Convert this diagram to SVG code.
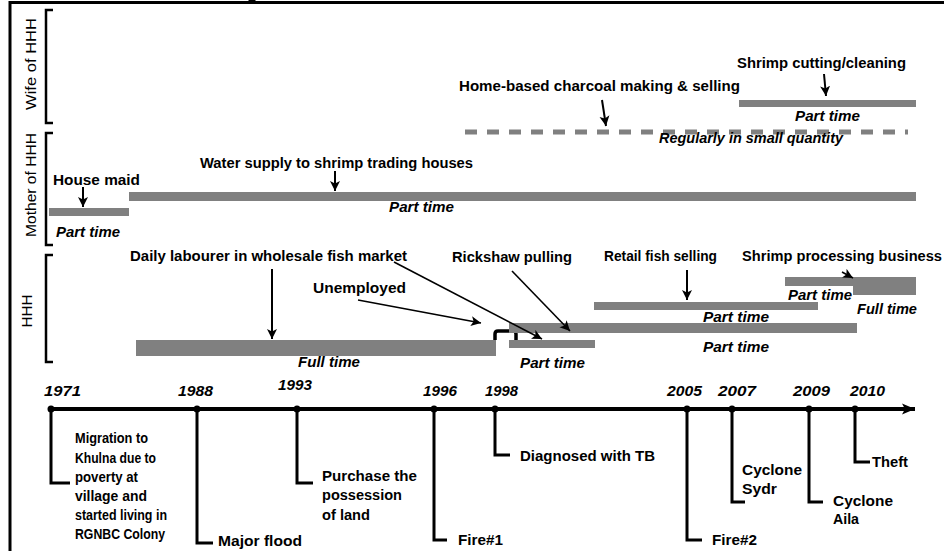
<svg xmlns="http://www.w3.org/2000/svg" width="944" height="551" viewBox="0 0 944 551">
<defs>
<style>
text{font-family:"Liberation Sans",Arial,sans-serif;fill:#000}
.b{font-weight:bold;font-size:14.5px}
.it{font-weight:bold;font-style:italic;font-size:14.5px}
.yr{font-weight:bold;font-style:italic;font-size:14px}
.row{font-size:15px}
.bar{fill:#808080}
.brk{fill:none;stroke:#000;stroke-width:2.5}
.arr{fill:none;stroke:#000;stroke-width:1.6;marker-end:url(#ah)}
.arrv{fill:none;stroke:#000;stroke-width:2;marker-end:url(#ah)}
.call{fill:none;stroke:#000;stroke-width:3}
.dot{fill:#000}
</style>
<marker id="ah" markerUnits="userSpaceOnUse" markerWidth="11" markerHeight="11" refX="10" refY="5.5" orient="auto">
<path d="M0,0.5 L10,5.5 L0,10.5 L2.5,5.5 z" fill="#000"/>
</marker>
<marker id="axh" markerUnits="userSpaceOnUse" markerWidth="14" markerHeight="12" refX="13" refY="6" orient="auto">
<path d="M0,0.5 L13,6 L0,11.5 L3,6 z" fill="#000"/>
</marker>
</defs>
<rect width="944" height="551" fill="#fff"/>
<g id="frame">
<path d="M10,551 V2.5 H944" fill="none" stroke="#000" stroke-width="3"/>
<path d="M248,0 L256,0 L252,4 z" fill="#000"/>
</g>
<g id="row-labels">
<text class="row" transform="translate(36,64) rotate(-90)" text-anchor="middle" textLength="92" lengthAdjust="spacingAndGlyphs">Wife of HHH</text>
<path class="brk" d="M53,10 H46 V123 H53"/>
<text class="row" transform="translate(36,185) rotate(-90)" text-anchor="middle" textLength="104" lengthAdjust="spacingAndGlyphs">Mother of HHH</text>
<path class="brk" d="M53,133 H46 V245 H53"/>
<text class="row" transform="translate(32,311) rotate(-90)" text-anchor="middle" textLength="33" lengthAdjust="spacingAndGlyphs">HHH</text>
<path class="brk" d="M53,255 H46 V362 H53"/>
</g>
<g id="wife-charcoal">
<text class="b" x="459" y="91" textLength="281" lengthAdjust="spacingAndGlyphs">Home-based charcoal making &amp; selling</text>
<line x1="465" y1="132" x2="908" y2="132" stroke="#808080" stroke-width="5" stroke-dasharray="12 10"/>
<text class="it" x="659" y="143" textLength="184" lengthAdjust="spacingAndGlyphs">Regularly in small quantity</text>
</g>
<g id="wife-shrimp">
<text class="b" x="737" y="68" textLength="169" lengthAdjust="spacingAndGlyphs">Shrimp cutting/cleaning</text>
<rect class="bar" x="739" y="100" width="177" height="7"/>
<text class="it" x="795" y="121" textLength="65" lengthAdjust="spacingAndGlyphs">Part time</text>
</g>
<g id="mother-maid">
<text class="b" x="53" y="185" textLength="87" lengthAdjust="spacingAndGlyphs">House maid</text>
<rect class="bar" x="49" y="208" width="80" height="8"/>
<text class="it" x="56" y="237" textLength="64" lengthAdjust="spacingAndGlyphs">Part time</text>
</g>
<g id="mother-water">
<text class="b" x="200" y="168" textLength="273" lengthAdjust="spacingAndGlyphs">Water supply to shrimp trading houses</text>
<rect class="bar" x="129" y="192" width="787" height="9"/>
<text class="it" x="389" y="212" textLength="65" lengthAdjust="spacingAndGlyphs">Part time</text>
</g>
<g id="hhh-labourer">
<text class="b" x="130" y="261" textLength="277" lengthAdjust="spacingAndGlyphs">Daily labourer in wholesale fish market</text>
<rect class="bar" x="136" y="340" width="360" height="16"/>
<text class="it" x="298" y="367" textLength="62" lengthAdjust="spacingAndGlyphs">Full time</text>
</g>
<g id="hhh-unemployed">
<text class="b" x="313" y="293" textLength="93" lengthAdjust="spacingAndGlyphs">Unemployed</text>
<path d="M495,340 V334 Q495,331 498,331 H513 Q516,331 516,334 V340" fill="none" stroke="#000" stroke-width="3.5"/>
</g>
<g id="hhh-rickshaw">
<text class="b" x="452" y="262" textLength="120" lengthAdjust="spacingAndGlyphs">Rickshaw pulling</text>
<rect class="bar" x="509" y="340" width="86" height="8"/>
<text class="it" x="520" y="368" textLength="65" lengthAdjust="spacingAndGlyphs">Part time</text>
<rect class="bar" x="509" y="323" width="348" height="10"/>
<text class="it" x="703" y="352" textLength="66" lengthAdjust="spacingAndGlyphs">Part time</text>
</g>
<g id="hhh-retail">
<text class="b" x="604" y="261" textLength="113" lengthAdjust="spacingAndGlyphs">Retail fish selling</text>
<rect class="bar" x="594" y="302" width="224" height="8"/>
<text class="it" x="703" y="322" textLength="66" lengthAdjust="spacingAndGlyphs">Part time</text>
</g>
<g id="hhh-shrimp">
<text class="b" x="742" y="261" textLength="200" lengthAdjust="spacingAndGlyphs">Shrimp processing business</text>
<rect class="bar" x="785" y="277" width="131" height="9"/>
<rect class="bar" x="853" y="277" width="63" height="18"/>
<text class="it" x="788" y="300" textLength="64" lengthAdjust="spacingAndGlyphs">Part time</text>
<text class="it" x="857" y="314" textLength="60" lengthAdjust="spacingAndGlyphs">Full time</text>
</g>
<g id="connectors">
<line class="arrv" x1="83" y1="187" x2="83" y2="207"/>
<line class="arrv" x1="335" y1="171" x2="335" y2="191"/>
<line class="arrv" x1="602" y1="100" x2="606" y2="126"/>
<line class="arrv" x1="824" y1="74" x2="826" y2="96"/>
<line class="arrv" x1="272" y1="269" x2="272" y2="339"/>
<line class="arr" x1="358" y1="300" x2="481" y2="323"/>
<line class="arr" x1="394" y1="262" x2="542" y2="339"/>
<line class="arr" x1="512" y1="271" x2="570" y2="331"/>
<line class="arrv" x1="687" y1="270" x2="687" y2="300"/>
<line class="arr" x1="842" y1="272" x2="853" y2="278"/>
</g>
<g id="timeline">
<line x1="48" y1="409" x2="915" y2="409" stroke="#000" stroke-width="4" marker-end="url(#axh)"/>
<text class="yr" x="44" y="396" textLength="37" lengthAdjust="spacingAndGlyphs">1971</text>
<text class="yr" x="178" y="396" textLength="35" lengthAdjust="spacingAndGlyphs">1988</text>
<text class="yr" x="278" y="390" textLength="34" lengthAdjust="spacingAndGlyphs">1993</text>
<text class="yr" x="423" y="396" textLength="34" lengthAdjust="spacingAndGlyphs">1996</text>
<text class="yr" x="485" y="396" textLength="33" lengthAdjust="spacingAndGlyphs">1998</text>
<text class="yr" x="667" y="396" textLength="35" lengthAdjust="spacingAndGlyphs">2005</text>
<text class="yr" x="718" y="396" textLength="38" lengthAdjust="spacingAndGlyphs">2007</text>
<text class="yr" x="793" y="396" textLength="37" lengthAdjust="spacingAndGlyphs">2009</text>
<text class="yr" x="850" y="396" textLength="35" lengthAdjust="spacingAndGlyphs">2010</text>
</g>
<g id="ev-1971">
<circle class="dot" cx="51" cy="409" r="3.5"/>
<path class="call" d="M51,409 V483 H70"/>
<text class="b" x="75" y="443" textLength="73" lengthAdjust="spacingAndGlyphs">Migration to</text>
<text class="b" x="75" y="463" textLength="81" lengthAdjust="spacingAndGlyphs">Khulna due to</text>
<text class="b" x="75" y="482" textLength="63" lengthAdjust="spacingAndGlyphs">poverty at</text>
<text class="b" x="75" y="501" textLength="72" lengthAdjust="spacingAndGlyphs">village and</text>
<text class="b" x="75" y="520" textLength="92" lengthAdjust="spacingAndGlyphs">started living in</text>
<text class="b" x="75" y="539" textLength="90" lengthAdjust="spacingAndGlyphs">RGNBC Colony</text>
</g>
<g id="ev-1988">
<circle class="dot" cx="197" cy="409" r="3.5"/>
<path class="call" d="M197,409 V543 H213"/>
<text class="b" x="218" y="546" textLength="84" lengthAdjust="spacingAndGlyphs">Major flood</text>
</g>
<g id="ev-1993">
<circle class="dot" cx="297" cy="409" r="3.5"/>
<path class="call" d="M297,409 V483 H313"/>
<text class="b" x="322" y="481" textLength="95" lengthAdjust="spacingAndGlyphs">Purchase the</text>
<text class="b" x="322" y="500" textLength="80" lengthAdjust="spacingAndGlyphs">possession</text>
<text class="b" x="322" y="520" textLength="48" lengthAdjust="spacingAndGlyphs">of land</text>
</g>
<g id="ev-1996">
<circle class="dot" cx="434" cy="409" r="3.5"/>
<path class="call" d="M434,409 V540 H447"/>
<text class="b" x="458" y="545" textLength="45" lengthAdjust="spacingAndGlyphs">Fire#1</text>
</g>
<g id="ev-1998">
<circle class="dot" cx="495" cy="409" r="3.5"/>
<path class="call" d="M495,409 V455 H510"/>
<text class="b" x="520" y="461" textLength="135" lengthAdjust="spacingAndGlyphs">Diagnosed with TB</text>
</g>
<g id="ev-2005">
<circle class="dot" cx="687" cy="409" r="3.5"/>
<path class="call" d="M687,409 V540 H702"/>
<text class="b" x="712" y="545" textLength="45" lengthAdjust="spacingAndGlyphs">Fire#2</text>
</g>
<g id="ev-2007">
<circle class="dot" cx="732" cy="409" r="3.5"/>
<path class="call" d="M732,409 V502 H745"/>
<text class="b" x="742" y="475" textLength="60" lengthAdjust="spacingAndGlyphs">Cyclone</text>
<text class="b" x="742" y="494" textLength="35" lengthAdjust="spacingAndGlyphs">Sydr</text>
</g>
<g id="ev-2009">
<circle class="dot" cx="809" cy="409" r="3.5"/>
<path class="call" d="M809,409 V502 H823"/>
<text class="b" x="833" y="506" textLength="60" lengthAdjust="spacingAndGlyphs">Cyclone</text>
<text class="b" x="833" y="524" textLength="26" lengthAdjust="spacingAndGlyphs">Aila</text>
</g>
<g id="ev-2010">
<circle class="dot" cx="855" cy="409" r="3.5"/>
<path class="call" d="M855,409 V462 H870"/>
<text class="b" x="872" y="467" textLength="36" lengthAdjust="spacingAndGlyphs">Theft</text>
</g>
</svg>
